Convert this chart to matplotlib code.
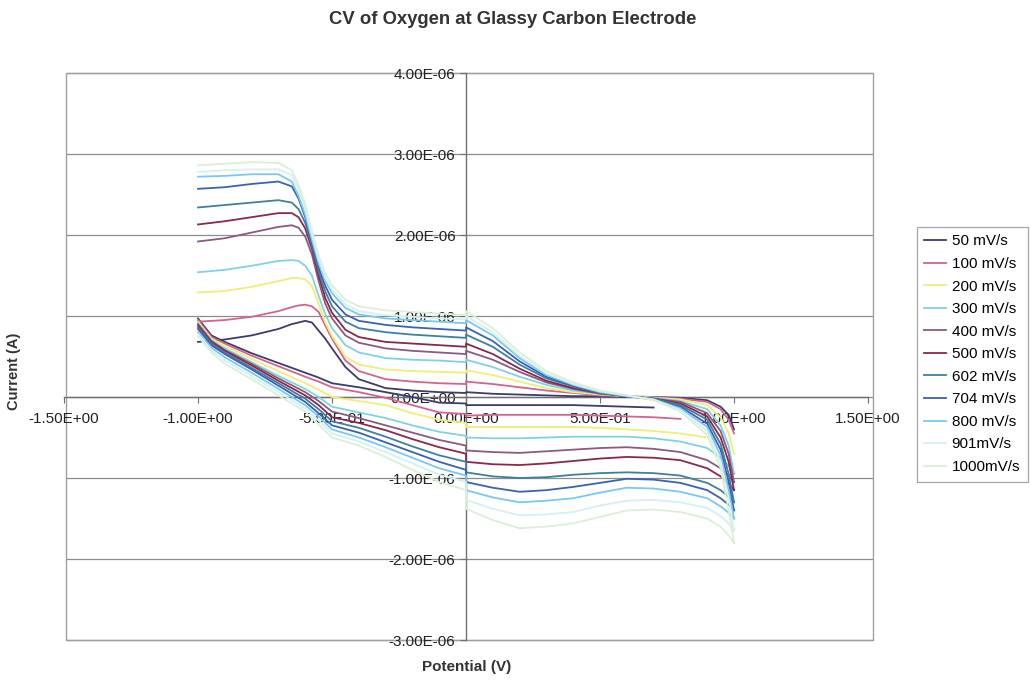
import matplotlib
matplotlib.use("Agg")
import matplotlib.pyplot as plt
import matplotlib.transforms as mtransforms
import numpy as np
from matplotlib.patches import Rectangle

plt.rcParams['font.family'] = ['Liberation Sans', 'DejaVu Sans']

# potentials (V) of the read points; 0.0 appears twice where the trace jumps
x_up = [-1.0, -0.9, -0.8, -0.7, -0.65, -0.625, -0.6, -0.575, -0.55, -0.525, -0.5, -0.45, -0.4,
        -0.3, -0.2, -0.1, 0.0,
        0.0, 0.1, 0.2, 0.3, 0.4, 0.5, 0.6, 0.7, 0.8, 0.9, 0.95, 0.98, 1.0]
x_lo = [1.0, 0.98, 0.95, 0.9, 0.8, 0.7, 0.6, 0.5, 0.4, 0.3, 0.2, 0.1, 0.0,
        0.0, -0.1, -0.2, -0.3, -0.4, -0.5, -0.55, -0.6, -0.7, -0.8, -0.9, -0.95, -1.0]

labels = ['50 mV/s', '100 mV/s', '200 mV/s', '300 mV/s', '400 mV/s', '500 mV/s',
          '602 mV/s', '704 mV/s', '800 mV/s', '901mV/s', '1000mV/s']
colors = ['#3c3c6e', '#d2648e', '#eeee78', '#80d2e2', '#8a5a82', '#8a2848',
          '#3f7f9f', '#3a62b2', '#78c8f0', '#d4f0f2', '#dcefd6']

nan = float('nan')

# current in microamps, forward (upper) branch
up_50 = [0.68, 0.71, 0.76, 0.84, 0.90, 0.92, 0.94, 0.92, 0.82, 0.72, 0.60, 0.37, 0.22,
         0.11, 0.08, 0.06, 0.05,
         0.06, 0.04, 0.03, 0.02, 0.01, 0.01, 0.0, 0.0, -0.01, -0.04, -0.12, -0.22, -0.40]
up_100 = [0.93, 0.95, 0.99, 1.06, 1.11, 1.13, 1.14, 1.12, 1.05, 0.88, 0.72, 0.45, 0.32,
          0.22, 0.19, 0.17, 0.16,
          0.19, 0.16, 0.12, 0.08, 0.05, 0.02, 0.01, 0.0, -0.02, -0.06, -0.15, -0.28, -0.45]
up_200 = [1.29, 1.31, 1.36, 1.43, 1.47, 1.47, 1.45, 1.37, 1.15, 0.92, 0.75, 0.50, 0.40,
          0.34, 0.32, 0.31, 0.30,
          0.33, 0.27, 0.19, 0.11, 0.06, 0.03, 0.01, -0.01, -0.03, -0.10, -0.25, -0.45, -0.70]
up_300 = [1.54, 1.57, 1.62, 1.68, 1.69, 1.68, 1.62, 1.50, 1.25, 1.02, 0.85, 0.64, 0.55,
          0.48, 0.46, 0.45, 0.43,
          0.46, 0.37, 0.25, 0.15, 0.08, 0.04, 0.01, -0.01, -0.05, -0.15, -0.35, -0.60, -0.95]
up_400 = [1.92, 1.96, 2.03, 2.10, 2.12, 2.09, 1.98, 1.76, 1.43, 1.15, 0.97, 0.76, 0.67,
          0.60, 0.57, 0.55, 0.53,
          0.57, 0.46, 0.31, 0.18, 0.10, 0.04, 0.01, -0.02, -0.06, -0.20, -0.42, -0.70, -1.05]
up_500 = [2.13, 2.17, 2.22, 2.27, 2.27, 2.22, 2.08, 1.83, 1.50, 1.22, 1.04, 0.83, 0.74,
          0.68, 0.66, 0.64, 0.62,
          0.66, 0.53, 0.35, 0.20, 0.11, 0.05, 0.01, -0.02, -0.08, -0.24, -0.50, -0.80, -1.15]
up_602 = [2.34, 2.37, 2.40, 2.43, 2.40, 2.32, 2.15, 1.87, 1.55, 1.30, 1.12, 0.93, 0.85,
          0.80, 0.77, 0.75, 0.73,
          0.77, 0.62, 0.40, 0.23, 0.13, 0.05, 0.01, -0.02, -0.10, -0.28, -0.58, -0.95, -1.30]
up_704 = [2.57, 2.59, 2.63, 2.66, 2.60, 2.45, 2.22, 1.90, 1.60, 1.37, 1.20, 1.02, 0.94,
          0.89, 0.86, 0.84, 0.82,
          0.86, 0.69, 0.44, 0.25, 0.14, 0.06, 0.01, -0.03, -0.12, -0.33, -0.65, -1.05, -1.40]
up_800 = [2.72, 2.73, 2.75, 2.75, 2.66, 2.48, 2.25, 1.94, 1.65, 1.43, 1.28, 1.10, 1.02,
          0.97, 0.95, 0.93, 0.91,
          0.95, 0.76, 0.48, 0.27, 0.15, 0.06, 0.01, -0.03, -0.14, -0.37, -0.72, -1.15, -1.50]
up_901 = [2.78, 2.80, 2.81, 2.81, 2.74, 2.56, 2.32, 2.00, 1.70, 1.47, 1.33, 1.14, 1.06,
          1.01, 0.99, 0.97, 0.96,
          1.00, 0.80, 0.51, 0.29, 0.16, 0.07, 0.02, -0.03, -0.16, -0.42, -0.80, -1.25, -1.65]
up_1000 = [2.86, 2.88, 2.90, 2.89, 2.80, 2.62, 2.38, 2.05, 1.75, 1.52, 1.38, 1.20, 1.12,
           1.07, 1.05, 1.03, 1.01,
           1.06, 0.85, 0.55, 0.32, 0.18, 0.08, 0.02, -0.04, -0.18, -0.47, -0.88, -1.40, -1.80]

# current in microamps, reverse (lower) branch
lo_50 = [nan, nan, nan, nan, nan, -0.13, -0.12, -0.11, -0.10, -0.10, -0.10, -0.10, -0.10,
         -0.08, -0.07, 0.0, 0.06, 0.12, 0.17, 0.24, 0.30, 0.42, 0.54, 0.68, 0.76, 0.97]
lo_100 = [nan, nan, nan, nan, -0.27, -0.25, -0.24, -0.23, -0.22, -0.22, -0.22, -0.22, -0.23,
          -0.21, -0.19, -0.10, -0.01, 0.06, 0.12, 0.19, 0.25, 0.38, 0.51, 0.66, 0.74, 0.95]
lo_200 = [nan, nan, nan, -0.50, -0.45, -0.42, -0.40, -0.38, -0.37, -0.37, -0.37, -0.37, -0.37,
          -0.32, -0.28, -0.20, -0.10, -0.05, 0.0, 0.09, 0.17, 0.32, 0.47, 0.63, 0.72, 0.93]
lo_300 = [-0.95, -0.85, -0.75, -0.63, -0.55, -0.51, -0.49, -0.49, -0.49, -0.50, -0.51, -0.51, -0.50,
          -0.48, -0.43, -0.35, -0.26, -0.19, -0.12, 0.0, 0.10, 0.26, 0.43, 0.60, 0.70, 0.91]
lo_400 = [-1.05, -0.97, -0.88, -0.78, -0.68, -0.64, -0.62, -0.63, -0.65, -0.67, -0.69, -0.68, -0.66,
          -0.60, -0.53, -0.44, -0.35, -0.26, -0.18, -0.05, 0.06, 0.23, 0.41, 0.58, 0.69, 0.90]
lo_500 = [-1.15, -1.07, -0.98, -0.88, -0.78, -0.75, -0.74, -0.76, -0.79, -0.82, -0.84, -0.83, -0.80,
          -0.70, -0.62, -0.52, -0.41, -0.32, -0.25, -0.10, 0.02, 0.20, 0.39, 0.57, 0.68, 0.88]
lo_602 = [-1.30, -1.23, -1.15, -1.06, -0.97, -0.94, -0.93, -0.94, -0.96, -0.99, -1.00, -0.98, -0.93,
          -0.80, -0.72, -0.61, -0.49, -0.38, -0.30, -0.15, -0.02, 0.17, 0.36, 0.55, 0.66, 0.86]
lo_704 = [-1.40, -1.33, -1.25, -1.15, -1.06, -1.02, -1.01, -1.06, -1.11, -1.15, -1.17, -1.12, -1.05,
          -0.90, -0.80, -0.68, -0.56, -0.44, -0.35, -0.20, -0.06, 0.14, 0.34, 0.53, 0.64, 0.84]
lo_800 = [-1.50, -1.43, -1.35, -1.25, -1.17, -1.13, -1.12, -1.18, -1.25, -1.28, -1.30, -1.24, -1.15,
          -0.97, -0.88, -0.75, -0.62, -0.50, -0.40, -0.24, -0.10, 0.10, 0.30, 0.49, 0.61, 0.80]
lo_901 = [-1.65, -1.56, -1.47, -1.37, -1.30, -1.27, -1.28, -1.34, -1.42, -1.45, -1.46, -1.38, -1.27,
          -1.05, -0.96, -0.82, -0.68, -0.55, -0.45, -0.29, -0.14, 0.06, 0.26, 0.45, 0.58, 0.78]
lo_1000 = [-1.80, -1.71, -1.60, -1.50, -1.42, -1.39, -1.40, -1.48, -1.56, -1.60, -1.62, -1.52, -1.38,
           -1.15, -1.05, -0.90, -0.74, -0.60, -0.50, -0.34, -0.18, 0.02, 0.22, 0.41, 0.55, 0.75]

upper = [up_50, up_100, up_200, up_300, up_400, up_500, up_602, up_704, up_800, up_901, up_1000]
lower = [lo_50, lo_100, lo_200, lo_300, lo_400, lo_500, lo_602, lo_704, lo_800, lo_901, lo_1000]

x_ticks = [-1.5, -1.0, -0.5, 0.0, 0.5, 1.0, 1.5]
y_ticks = [-3e-6, -2e-6, -1e-6, 0.0, 1e-6, 2e-6, 3e-6, 4e-6]

fig = plt.figure(figsize=(10.31, 6.81), dpi=100)
ax = fig.add_axes([0.0621, 0.0602, 0.7798, 0.8326])

for up, lo, lab, col in zip(upper, lower, labels, colors):
    xs = x_up + [nan] + x_lo
    ys = np.array(up + [nan] + lo) * 1e-6
    ax.plot(xs, ys, color=col, lw=1.3, label=lab, zorder=3)

ax.set_xlim(-1.5, 1.5)
ax.set_ylim(-3e-6, 4e-6)
ax.set_xticks(x_ticks)
ax.set_yticks(y_ticks)
ax.set_xticklabels(['{:.2E}'.format(v) for v in x_ticks])
ax.set_yticklabels(['{:.2E}'.format(v) for v in y_ticks])

ax.spines['left'].set_position(('data', 0))
ax.spines['bottom'].set_position(('data', 0))
ax.spines['top'].set_visible(False)
ax.spines['right'].set_visible(False)
for s in ['left', 'bottom']:
    ax.spines[s].set_color('#707070')
    ax.spines[s].set_linewidth(1.0)
ax.tick_params(axis='both', colors='#707070', labelcolor='#222222', labelsize=11,
               length=4, direction='out')
ax.tick_params(axis='x', pad=7)

# horizontal gridlines and plot-area border, a little wider than the data range
x0, x1 = 0.0025, 1.0062
trans = mtransforms.blended_transform_factory(ax.transAxes, ax.transData)
ax.hlines(y_ticks, x0, x1, transform=trans, colors='#8c8c8c', lw=0.9, zorder=1,
          clip_on=False)
ax.add_patch(Rectangle((x0, 0), x1 - x0, 1, transform=ax.transAxes, fill=False,
                       ec='#a0a0a0', lw=1.0, clip_on=False, zorder=1))

fig.text(0.4976, 0.972, 'CV of Oxygen at Glassy Carbon Electrode', ha='center', va='center',
         fontsize=13.3, fontweight='bold', color='#333333')
fig.text(0.4525, 0.021, 'Potential (V)', ha='center', va='center', fontsize=11,
         fontweight='bold', color='#333333')
fig.text(0.014, 0.455, 'Current (A)', ha='center', va='center', rotation=90, fontsize=10.5,
         fontweight='bold', color='#333333')

leg = fig.legend(loc='upper left', bbox_to_anchor=(0.889, 0.667), fontsize=11,
                 frameon=True, fancybox=False, handlelength=1.4, handletextpad=0.4,
                 labelspacing=0.56, borderpad=0.5, borderaxespad=0)
leg.get_frame().set_edgecolor('#909090')
leg.get_frame().set_linewidth(0.9)

fig.savefig('out.png', dpi=100)
